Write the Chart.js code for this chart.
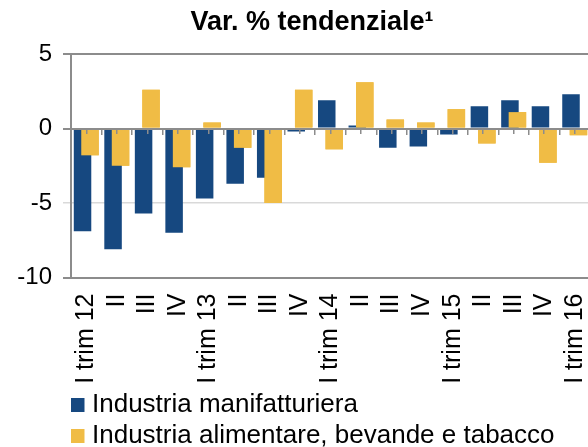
<!DOCTYPE html>
<html>
<head>
<meta charset="utf-8">
<script src="https://cdn.jsdelivr.net/npm/chart.js@4.4.1/dist/chart.umd.min.js"></script>
<style>
  html, body { margin: 0; padding: 0; background: #fff; overflow: hidden; }
  canvas { display: block; }
</style>
</head>
<body>
<canvas id="chart" width="624" height="459"></canvas>
<script>
// trimestri (var. % tendenziale)
const categorie = ['I trim 12', 'II', 'III', 'IV', 'I trim 13', 'II', 'III', 'IV',
    'I trim 14', 'II', 'III', 'IV', 'I trim 15', 'II', 'III', 'IV', 'I trim 16'];
const manifatturiera = [-6.9, -8.1, -5.7, -7.0, -4.7, -3.7, -3.3, -0.2, 1.9, 0.2, -1.3, -1.2, -0.4, 1.5, 1.9, 1.5, 2.3];
const alimentare = [-1.8, -2.5, 2.6, -2.6, 0.4, -1.3, -5.0, 2.6, -1.4, 3.1, 0.6, 0.4, 1.3, -1.0, 1.1, -2.3, -0.45];
const yTicks = [5, 0, -5, -10];

const BLU = '#164880';
const GIALLO = '#F0BC45';
const GRIGIO = '#8c8c8c';
const font = 'Liberation Sans, Arial, sans-serif';

// excel draws the second series over the first one
const gialloSopra = {
    id: 'gialloSopra',
    afterDatasetsDraw(chart) {
        chart.getDatasetMeta(1).controller.draw();
    }
};

// little tick marks hanging under the zero line (category edges + centres)
const zeroAxis = (gridOffset, border) => ({
    type: 'category',
    display: true,
    position: { y: 0 },
    offset: true,
    ticks: { display: false },
    grid: {
        display: true,
        offset: gridOffset,
        drawOnChartArea: false,
        drawTicks: true,
        tickLength: 5,
        color: GRIGIO,
        tickColor: GRIGIO,
        lineWidth: 1.5,
        z: 1
    },
    border: { display: border, color: GRIGIO, width: 2, z: 1 }
});

const ctx = document.getElementById('chart').getContext('2d');
const chart = new Chart(ctx, {
    type: 'bar',
    data: {
        labels: categorie,
        datasets: [{
            label: 'Industria manifatturiera',
            data: manifatturiera,
            backgroundColor: BLU,
            borderWidth: 0
        }, {
            label: 'Industria alimentare, bevande e tabacco',
            data: alimentare,
            backgroundColor: GIALLO,
            borderWidth: 0
        }]
    },
    options: {
        responsive: false,
        animation: false,
        devicePixelRatio: 1,
        categoryPercentage: 0.49,
        barPercentage: 2.34,
        layout: { padding: 0 },
        plugins: {
            title: {
                display: true,
                text: 'Var. % tendenziale¹',
                color: '#000',
                font: { family: font, size: 27, weight: 'bold', lineHeight: 1.2 },
                padding: { top: 6.4, bottom: 15.2 }
            },
            legend: {
                position: 'bottom',
                align: 'start',
                fullSize: false,
                labels: {
                    usePointStyle: true,
                    pointStyle: 'rect',
                    boxWidth: 3,
                    boxHeight: 14,
                    padding: 5,
                    color: '#000',
                    font: { family: font, size: 26 }
                }
            },
            tooltip: { enabled: false }
        },
        scales: {
            x: {
                type: 'category',
                position: 'bottom',
                grid: { display: false, drawTicks: false },
                border: { display: false },
                ticks: {
                    minRotation: 90,
                    maxRotation: 90,
                    autoSkip: false,
                    padding: 16,
                    color: '#000',
                    font: { family: font, size: 25 }
                },
                afterFit(s) { s.height = 109.5; }
            },
            xEdge: zeroAxis(true, true),
            xMid: zeroAxis(false, false),
            y: {
                type: 'linear',
                min: -10,
                max: 5,
                afterBuildTicks(s) { s.ticks = yTicks.map(v => ({ value: v })); },
                ticks: {
                    padding: 11,
                    color: '#000',
                    font: { family: font, size: 24 }
                },
                grid: {
                    tickLength: 8,
                    color: c => c.tick && c.tick.value === -5 ? '#d9d9d9' : GRIGIO,
                    lineWidth: c => c.tick && c.tick.value === -5 ? 1.5 : 2
                },
                border: { color: GRIGIO, width: 2 },
                afterFit(s) { s.width = 71; }
            },
            yRight: {
                type: 'linear',
                position: 'right',
                grid: { display: false },
                ticks: { display: false },
                border: { display: false },
                afterFit(s) { s.width = 34; }
            }
        }
    },
    plugins: [gialloSopra]
});
</script>
</body>
</html>
